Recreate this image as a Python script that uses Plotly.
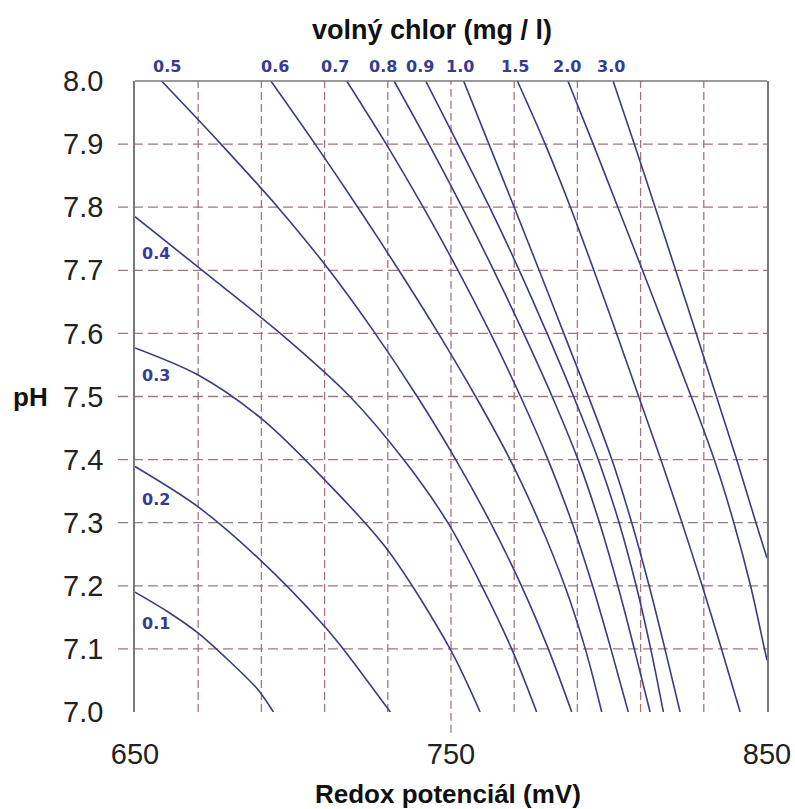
import plotly.graph_objects as go

# ---- data ----
ph_levels = [8.0, 7.9, 7.8, 7.7, 7.6, 7.5, 7.4, 7.3, 7.2, 7.1, 7.0]

c01_x = [650, 660, 670, 680, 689, 693.8]
c01_y = [7.19, 7.16, 7.125, 7.08, 7.035, 7.0]
c02_x = [650, 670, 689.6, 709.6, 715.9, 730.8]
c02_y = [7.389, 7.325, 7.241, 7.138, 7.1, 7.0]
c03_x = [650, 670, 690.5, 710, 729.6, 749.7, 759.2]
c03_y = [7.577, 7.534, 7.463, 7.368, 7.259, 7.1, 7.0]
c04_x = [650, 670, 696, 718, 735, 749, 759.7, 769.2, 777.1]
c04_y = [7.785, 7.705, 7.6, 7.5, 7.4, 7.3, 7.2, 7.1, 7.0]
c05_x = [658.4, 677.2, 695.2, 711.5, 726, 739.3, 751.5, 762.5, 772.3, 780.8, 788.2]
c06_x = [693, 707, 720.5, 733.5, 746, 757.8, 768.7, 778, 786, 792.5, 797.7]
c07_x = [717, 729.5, 741.2, 752.2, 762.5, 772, 780.7, 788.3, 794.8, 800.6, 806.1]
c08_x = [732, 743, 753.5, 763.5, 773, 782, 790.2, 797, 802.8, 808, 813]
c09_x = [742, 752.2, 762.2, 771.6, 780.4, 788.8, 796.6, 803.2, 808.6, 813.2, 817.2]
c10_x = [754, 762, 770, 777.9, 785.7, 793.5, 800.9, 807.2, 812.7, 817.7, 822.5]
c15_x = [771, 779.8, 787.8, 795.2, 802.4, 809.4, 816.4, 823.1, 829.5, 835.6, 841.5]
c20_x = [787, 795, 802.8, 810.6, 818.3, 826, 833.3, 839.5, 844.8, 849.2, 850]
c20_y = [8.0, 7.9, 7.8, 7.7, 7.6, 7.5, 7.4, 7.3, 7.2, 7.1, 7.082]
c30_x = [801.3, 808, 814.6, 821.1, 827.6, 834, 840.4, 846.5, 850]
c30_y = [8.0, 7.9, 7.8, 7.7, 7.6, 7.5, 7.4, 7.3, 7.244]

curves = [
    ("0.1", c01_x, c01_y), ("0.2", c02_x, c02_y), ("0.3", c03_x, c03_y),
    ("0.4", c04_x, c04_y), ("0.5", c05_x, ph_levels), ("0.6", c06_x, ph_levels),
    ("0.7", c07_x, ph_levels), ("0.8", c08_x, ph_levels), ("0.9", c09_x, ph_levels),
    ("1.0", c10_x, ph_levels), ("1.5", c15_x, ph_levels), ("2.0", c20_x, c20_y),
    ("3.0", c30_x, c30_y),
]

top_labels = ["0.5", "0.6", "0.7", "0.8", "0.9", "1.0", "1.5", "2.0", "3.0"]
top_label_x = [660, 694.3, 713.3, 728.5, 740.2, 752.8, 770.3, 786.6, 800.5]
left_labels = ["0.4", "0.3", "0.2", "0.1"]
left_label_y = [7.727, 7.534, 7.336, 7.141]
left_label_x = 656.6

x_grid = [670, 690, 710, 730, 750, 770, 790, 810, 830]
y_grid = [7.1, 7.2, 7.3, 7.4, 7.5, 7.6, 7.7, 7.8, 7.9]
x_ticks = [650, 750, 850]
y_ticks = [7.0, 7.1, 7.2, 7.3, 7.4, 7.5, 7.6, 7.7, 7.8, 7.9, 8.0]

CURVE = "rgb(58,60,128)"
LABEL = "rgb(52,60,150)"
GRID = "rgb(160,118,128)"
AXIS = "rgb(120,120,120)"

fig = go.Figure()
for name, xs, ys in curves:
    fig.add_trace(go.Scatter(x=xs, y=ys, mode="lines", name=name,
                             line=dict(color=CURVE, width=1.6, shape="spline", smoothing=0.9),
                             hoverinfo="skip", showlegend=False))

shapes = []
for v in x_grid:
    shapes.append(dict(type="line", xref="x", yref="y domain", x0=v, x1=v,
                       y0=(-0.033 if v == 750 else 0), y1=1,
                       line=dict(color=GRID, width=1.3, dash="8px,4px"), layer="below"))
for h in y_grid:
    shapes.append(dict(type="line", xref="x domain", yref="y", x0=-0.027, x1=1, y0=h, y1=h,
                       line=dict(color=GRID, width=1.3, dash="10px,5px"), layer="below"))
# top border
shapes.append(dict(type="line", xref="x domain", yref="y domain", x0=0, x1=1, y0=1, y1=1,
                   line=dict(color=AXIS, width=1.6)))

annotations = []
for t, xv in zip(top_labels, top_label_x):
    annotations.append(dict(x=xv, y=1, xref="x", yref="y domain", text=t, showarrow=False,
                            yanchor="bottom", yshift=3,
                            font=dict(family="DejaVu Sans", size=16, color=LABEL, weight="bold")))
for t, yv in zip(left_labels, left_label_y):
    annotations.append(dict(x=left_label_x, y=yv, xref="x", yref="y", text=t, showarrow=False,
                            font=dict(family="DejaVu Sans", size=16, color=LABEL, weight="bold")))
annotations.append(dict(x=0.47, y=1, xref="paper", yref="paper", yanchor="middle", yshift=51,
                        text="<b>volný chlor (mg / l)</b>", showarrow=False,
                        font=dict(family="Liberation Sans", size=27, color="#111")))
annotations.append(dict(x=0.495, y=0, xref="paper", yref="paper", yanchor="middle", yshift=-82,
                        text="<b>Redox potenciál (mV)</b>", showarrow=False,
                        font=dict(family="Liberation Sans", size=26, color="#111")))
annotations.append(dict(x=0, y=0.5, xref="paper", yref="paper", xanchor="center", xshift=-105,
                        text="<b>pH</b>", showarrow=False,
                        font=dict(family="Liberation Sans", size=26, color="#111")))

fig.update_layout(
    width=795, height=809,
    margin=dict(l=135, r=28, t=81, b=97, autoexpand=False),
    paper_bgcolor="white", plot_bgcolor="white",
    shapes=shapes, annotations=annotations,
    xaxis=dict(range=[650, 850], tickvals=x_ticks, showgrid=False, zeroline=False,
               showline=False, ticks="", ticklabelstandoff=22, automargin=False,
               tickfont=dict(family="Liberation Sans", size=29, color="#222")),
    yaxis=dict(range=[7.0, 8.0], tickvals=y_ticks, tickformat=".1f", showgrid=False,
               zeroline=False, showline=True, mirror=True, linecolor=AXIS, linewidth=1.6,
               ticks="", ticklabelstandoff=24, automargin=False,
               tickfont=dict(family="Liberation Sans", size=29, color="#222")),
)

fig.write_html("out.html", config={"displayModeBar": False},
               post_script="document.body.style.margin='0px';document.body.style.overflow='hidden';")
